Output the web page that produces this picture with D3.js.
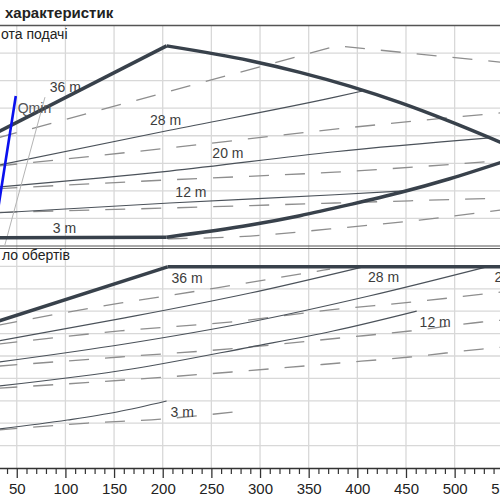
<!DOCTYPE html>
<html>
<head>
<meta charset="utf-8">
<script src="https://cdn.jsdelivr.net/npm/d3@7"></script>
<style>
    body { margin: 0; background: #fff; }
    svg { display: block; font-family: "Liberation Sans", Arial, sans-serif; }
</style>
</head>
<body>
<div id="chart"></div>
<script>

// flow axis ticks (m3/h)
const flowTicks = [50, 100, 150, 200, 250, 300, 350, 400, 450, 500, 550]

// upper panel, head (m) against flow
const headTop    = [[30, 20.6], [204, 36.3], [290, 33.6], [341, 31.5], [392, 29.0], [444, 26.0], [495, 22.6], [550, 18.6]]
const headBottom = [[30, 1.5], [204, 1.6], [290, 3.8], [341, 5.5], [392, 7.5], [444, 9.7], [495, 12.2], [550, 15.3]]
const head28 = [[30, 14.6], [207, 21.0], [377, 27.0], [405, 28.1]]
const head20 = [[30, 10.7], [207, 13.6], [377, 17.1], [536, 19.6]]
const head12 = [[30, 6.0], [207, 7.8], [377, 9.3], [449, 10.0]]
const headPeakDashed = [[30, 19.6], [379, 36.3], [550, 33.3]]
const headDashed = [
    [[30, 14.5], [207, 17.8], [377, 21.2], [550, 24.2]],
    [[30, 10.4], [207, 12.0], [377, 13.4], [550, 15.5]],
    [[30, 6.1], [207, 6.9], [377, 7.8], [550, 8.7]],
    [[205, 1.3], [290, 1.8], [372, 3.1], [464, 4.7], [550, 6.6]]
]
const qminLine    = [[30, 5.8], [49, 27.2]]
const minFlowLine = [[37.5, 0], [79, 27.0]]
const headLabels = [
    { text: "36 m", q: 84, v: 27.9 },
    { text: "28 m", q: 187, v: 21.9 },
    { text: "20 m", q: 251, v: 16.0 },
    { text: "12 m", q: 213, v: 8.9 },
    { text: "3 m", q: 87, v: 2.4 }
]

// lower panel, speed (1/min) against flow
const speedTop = [[30, 3270], [205, 4490], [550, 4490]]
const speedSolid = [
    [[30, 2830], [161, 3350], [290, 3906], [404, 4480]],
    [[30, 2360], [161, 2768], [290, 3259], [412, 3839], [533, 4490]],
    [[30, 1825], [168, 2210], [290, 2700], [375, 3058], [461, 3504]],
    [[30, 865], [102, 1071], [153, 1250], [204, 1495]]
]
const speedDashed = [
    [[30, 3185], [156, 3680], [204, 3840], [279, 4107], [372, 4440]],
    [[30, 2765], [156, 3060], [279, 3280], [372, 3530], [456, 3705], [550, 3935]],
    [[30, 2272], [156, 2478], [279, 2678], [382, 2902], [454, 3058], [528, 3259], [550, 3303]],
    [[30, 1781], [161, 1964], [271, 2143], [382, 2344], [454, 2478], [528, 2656], [550, 2701]],
    [[30, 845], [123, 1004], [199, 1094], [282, 1272]]
]
const speedLabels = [
    { text: "36 m", q: 209, v: 4129 },
    { text: "28 m", q: 411, v: 4152 },
    { text: "20 m", q: 541, v: 4152 },
    { text: "12 m", q: 464, v: 3147 },
    { text: "3 m", q: 208, v: 1138 }
]

function pumpChart({
    element,
    width,
    height,
    colourThick = "#38414b",
    colourThin = "#4b525a",
    colourDash = "#8e8e8e",
    colourGrid = "#d8d8d8",
    colourFrame = "#555"
}) {

    const svg = d3.select(`#${element}`)
        .html(null)
        .append("svg")
        .attr("width", width)
        .attr("height", height)

    let x = d3.scaleLinear()
        .domain([0, 550])
        .range([-31.9, 503.3])

    let yHead = d3.scaleLinear()
        .domain([0, 40])
        .range([246, 25.5])

    let ySpeed = d3.scaleLinear()
        .domain([0, 4900])
        .range([468, 248.5])

    // grid
    let grid = svg.append("g")
        .attr("stroke", colourGrid)
        .attr("stroke-width", 1.3)

    grid.selectAll(".vgrid")
        .data(flowTicks)
        .join("line")
        .attr("class", "vgrid")
        .attr("x1", d => x(d))
        .attr("x2", d => x(d))
        .attr("y1", yHead(40))
        .attr("y2", ySpeed(0))

    grid.selectAll(".hgrid")
        .data([5, 10, 15, 20, 25, 30, 35])
        .join("line")
        .attr("class", "hgrid")
        .attr("x1", 0)
        .attr("x2", width)
        .attr("y1", d => yHead(d))
        .attr("y2", d => yHead(d))

    grid.selectAll(".sgrid")
        .data([500, 1000, 1500, 2000, 2500, 3000, 3500, 4000, 4500])
        .join("line")
        .attr("class", "sgrid")
        .attr("x1", 0)
        .attr("x2", width)
        .attr("y1", d => ySpeed(d))
        .attr("y2", d => ySpeed(d))

    // panel frames
    svg.append("line")
        .attr("x1", 0).attr("x2", width)
        .attr("y1", yHead(40)).attr("y2", yHead(40))
        .attr("stroke", colourFrame)
        .attr("stroke-width", 1.6)

    svg.append("line")
        .attr("x1", 0).attr("x2", width)
        .attr("y1", yHead(0)).attr("y2", yHead(0))
        .attr("stroke", colourFrame)
        .attr("stroke-width", 1)

    svg.append("line")
        .attr("x1", 0).attr("x2", width)
        .attr("y1", ySpeed(4900)).attr("y2", ySpeed(4900))
        .attr("stroke", colourFrame)
        .attr("stroke-width", 1)

    // draws one series of [flow, value] points
    function drawLine(data, y, { stroke, width, dash = null, curve = d3.curveMonotoneX }) {
        svg.append("path")
            .datum(data)
            .attr("d", d3.line()
                .x(d => x(d[0]))
                .y(d => y(d[1]))
                .curve(curve))
            .attr("fill", "none")
            .attr("stroke", stroke)
            .attr("stroke-width", width)
            .attr("stroke-dasharray", dash)
            .attr("stroke-linejoin", "round")
    }

    // envelope: straight up to the knee, smooth after it
    function drawEnvelope(data, y) {
        drawLine(data.slice(0, 2), y, { stroke: colourThick, width: 3.5, curve: d3.curveLinear })
        drawLine(data.slice(1), y, { stroke: colourThick, width: 3.5 })
    }

    const dashed = { stroke: colourDash, width: 1.3, dash: "20,16" }
    const thin = { stroke: colourThin, width: 1.2 }

    // upper panel
    drawLine(headPeakDashed, yHead, { ...dashed, curve: d3.curveLinear })
    headDashed.forEach(s => drawLine(s, yHead, dashed))
    ;[head28, head20, head12].forEach(s => drawLine(s, yHead, thin))
    drawLine(minFlowLine, yHead, { stroke: "#b4b4b4", width: 1, curve: d3.curveLinear })
    drawEnvelope(headTop, yHead)
    drawEnvelope(headBottom, yHead)
    drawLine(qminLine, yHead, { stroke: "#0a10ee", width: 2.6, curve: d3.curveLinear })

    // lower panel
    speedDashed.forEach(s => drawLine(s, ySpeed, dashed))
    speedSolid.forEach(s => drawLine(s, ySpeed, thin))
    drawEnvelope(speedTop, ySpeed)

    // curve labels
    svg.append("g")
        .selectAll("text")
        .data(headLabels)
        .join("text")
        .attr("x", d => x(d.q))
        .attr("y", d => yHead(d.v))
        .attr("fill", "#3c3c3c")
        .style("font-size", "14px")
        .text(d => d.text)

    svg.append("g")
        .selectAll("text")
        .data(speedLabels)
        .join("text")
        .attr("x", d => x(d.q))
        .attr("y", d => ySpeed(d.v))
        .attr("fill", "#3c3c3c")
        .style("font-size", "14px")
        .text(d => d.text)

    svg.append("text")
        .attr("x", x(51))
        .attr("y", yHead(24.1))
        .attr("fill", "#555")
        .style("font-size", "14px")
        .text("Qmin")

    // titles
    svg.append("text")
        .attr("x", 5)
        .attr("y", 18)
        .attr("fill", "#222")
        .style("font-size", "15px")
        .style("font-weight", "bold")
        .text("характеристик")

    svg.append("text")
        .attr("x", 1)
        .attr("y", 39)
        .attr("fill", "#222")
        .style("font-size", "14px")
        .text("ота подачі")

    svg.append("text")
        .attr("x", 2)
        .attr("y", 260)
        .attr("fill", "#222")
        .style("font-size", "14px")
        .text("ло обертів")

    // flow axis with minor ticks
    let minor = d3.range(10, 560, 10).filter(d => d % 50 !== 0)

    svg.append("g")
        .attr("transform", `translate(0,${ySpeed(0)})`)
        .call(d3.axisBottom(x)
            .tickValues(minor)
            .tickSize(6)
            .tickFormat(""))
        .call(g => g.select(".domain").remove())
        .selectAll("line")
        .attr("stroke", "#333")
        .attr("stroke-width", 1.2)

    let xAxis = svg.append("g")
        .attr("transform", `translate(0,${ySpeed(0)})`)
        .call(d3.axisBottom(x)
            .tickValues(flowTicks)
            .tickSize(10)
            .tickSizeOuter(0)
            .tickPadding(5)
            .tickFormat(d3.format("d")))

    xAxis.select(".domain")
        .attr("stroke", "#333")
        .attr("stroke-width", 1.6)
    xAxis.selectAll("line")
        .attr("stroke", "#333")
        .attr("stroke-width", 1.3)
    xAxis.selectAll("text")
        .attr("fill", "#222")
        .style("font-size", "15px")
        .style("font-family", "\"Liberation Sans\", Arial, sans-serif")

    return svg.node()
}

pumpChart({ element: "chart", width: 500, height: 500 })

</script>
</body>
</html>
